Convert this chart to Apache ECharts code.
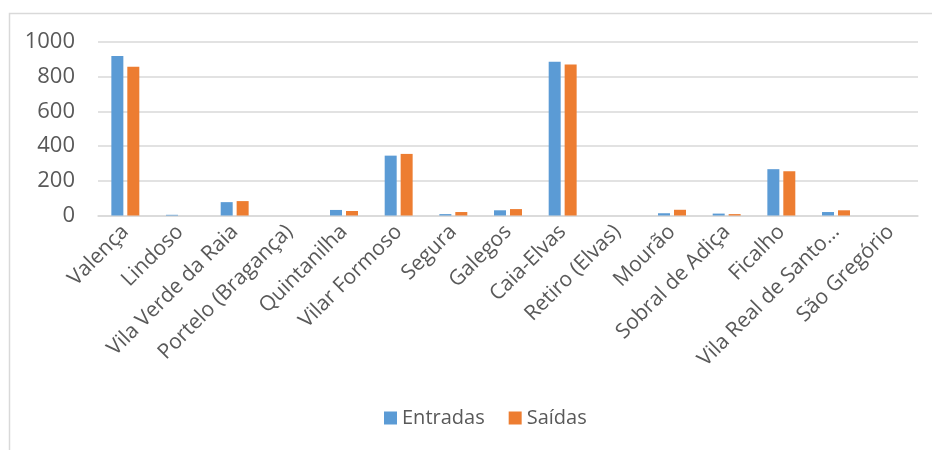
<!DOCTYPE html>
<html>
<head>
<meta charset="utf-8">
<script src="https://cdn.jsdelivr.net/npm/echarts@6/dist/echarts.min.js"></script>
<style>
  html, body { margin: 0; padding: 0; background: #ffffff; }
  #chart { width: 932px; height: 450px; }
</style>
</head>
<body>
<div id="chart"></div>
<script>
// Border crossings: entries and exits per post
const categories = [
  'Valença', 'Lindoso', 'Vila Verde da Raia', 'Portelo (Bragança)', 'Quintanilha',
  'Vilar Formoso', 'Segura', 'Galegos', 'Caia-Elvas', 'Retiro (Elvas)',
  'Mourão', 'Sobral de Adiça', 'Ficalho', 'Vila Real de Santo António', 'São Gregório'
];
const entradas = [919, 4, 77, 0, 32, 345, 8, 30, 886, 0, 13, 11, 267, 20, 0];
const saidas   = [858, 0, 83, 0, 26, 355, 20, 37, 871, 0, 33, 8, 255, 30, 0];
const yTicks = { min: 0, max: 1000, interval: 200 };
const seriesNames = ['Entradas', 'Saídas'];

const textColor = '#595959';
const gridColor = '#d9d9d9';
const font = '"Open Sans", "DejaVu Sans", sans-serif';

const chart = echarts.init(document.getElementById('chart'), null, { renderer: 'canvas' });

// long post names are cut short with an ellipsis
function shorten(name) {
  return name.length > 18 ? name.slice(0, 18) + '…' : name;
}

chart.setOption({
  animation: false,
  backgroundColor: '#ffffff',
  graphic: [{
    type: 'rect',
    shape: { x: 9.5, y: 13.5, width: 1000, height: 1000 },
    style: { fill: 'none', stroke: gridColor, lineWidth: 1.5 },
    silent: true
  }],
  grid: { left: 98, right: 14, top: 42, bottom: 234.5, containLabel: false },
  legend: {
    bottom: 17,
    left: 379,
    itemWidth: 13,
    itemHeight: 13,
    itemGap: 24,
    icon: 'rect',
    textStyle: { color: textColor, fontSize: 20, fontFamily: font },
    data: seriesNames
  },
  xAxis: {
    type: 'category',
    data: categories,
    axisTick: { show: false },
    axisLine: { show: true, lineStyle: { color: gridColor, width: 1.5 } },
    axisLabel: {
      interval: 0,
      rotate: 45,
      margin: 13,
      color: textColor,
      fontSize: 21,
      fontFamily: font,
      formatter: shorten
    }
  },
  yAxis: {
    type: 'value',
    min: yTicks.min,
    max: yTicks.max,
    interval: yTicks.interval,
    axisLine: { show: false },
    axisTick: { show: false },
    splitLine: { lineStyle: { color: gridColor, width: 1.5 } },
    axisLabel: {
      margin: 23,
      color: textColor,
      fontSize: 22,
      fontFamily: font,
      formatter: (v) => String(v)
    }
  },
  series: [
    {
      name: seriesNames[0],
      type: 'bar',
      data: entradas,
      barWidth: 12,
      barGap: '33%',
      itemStyle: { color: '#5b9bd5' }
    },
    {
      name: seriesNames[1],
      type: 'bar',
      data: saidas,
      barWidth: 12,
      barGap: '33%',
      itemStyle: { color: '#ed7d31' }
    }
  ]
});
</script>
</body>
</html>
